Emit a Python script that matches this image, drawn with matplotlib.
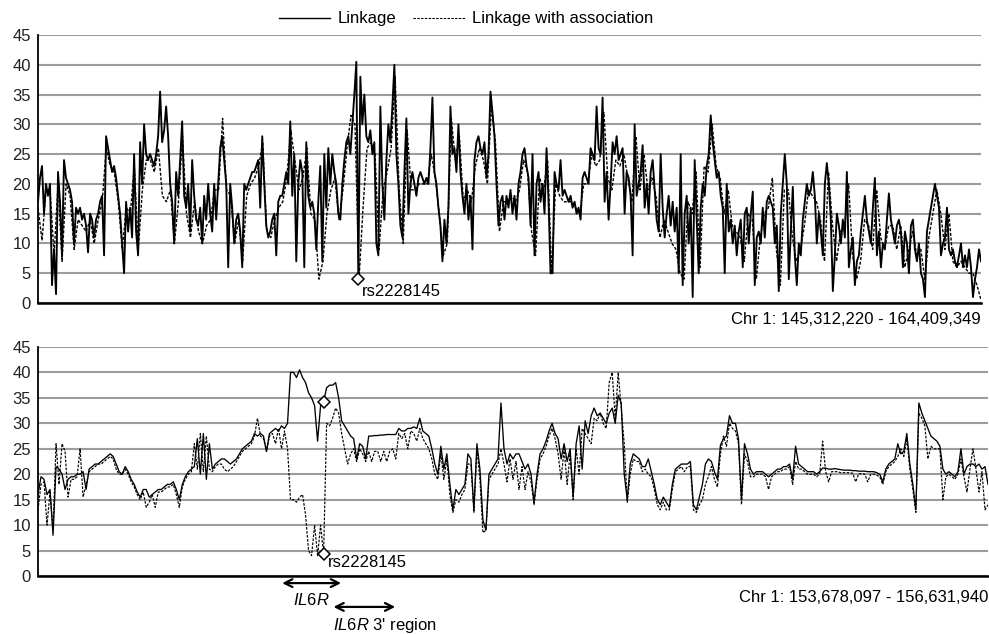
import numpy as np
import matplotlib
matplotlib.use("Agg")
import matplotlib.pyplot as plt
from matplotlib.transforms import blended_transform_factory
from matplotlib.lines import Line2D

plt.rcParams['font.family'] = ['Liberation Sans', 'DejaVu Sans']
plt.rcParams['mathtext.fontset'] = 'custom'
plt.rcParams['mathtext.it'] = 'Liberation Sans:italic'
plt.rcParams['mathtext.rm'] = 'Liberation Sans'

# ---------------- data ----------------
yticks = [0, 5, 10, 15, 20, 25, 30, 35, 40, 45]
legend_labels = ["Linkage", "Linkage with association"]
top_range_label = "Chr 1: 145,312,220 - 164,409,349"
bot_range_label = "Chr 1: 153,678,097 - 156,631,940"
snp_label = "rs2228145"

top_linkage = [
    17, 21, 23, 15, 20, 18, 20, 3, 9, 1.5,
    22, 17, 8, 24, 21, 20, 19, 17, 10, 16,
    15, 16, 14, 15, 13, 8.5, 15, 14, 11, 14,
    15, 17, 18, 8, 28, 26, 24, 22, 23, 21,
    18, 15, 10, 5, 17, 12, 16, 11, 25, 12,
    8, 27, 20, 30, 25, 24, 25, 24, 23, 25,
    28, 35.5, 27, 29, 33, 28, 20, 17, 10, 22,
    18, 24, 30.5, 18, 16, 20, 12, 24, 18, 14,
    13, 16, 10, 18, 14, 20, 15, 12, 20, 14,
    20, 26, 28, 24, 20, 6, 20, 16, 10, 14,
    15, 12, 6, 20, 19, 20, 21, 22, 22, 23,
    24, 16, 28, 20, 13, 11, 12, 14, 15, 8,
    17, 18, 18, 20, 22, 20, 30.5, 18, 25, 7,
    20, 24, 22, 6, 27, 18, 16, 17, 15, 9,
    17, 23, 7, 25, 16, 26, 20, 25, 22, 20,
    15, 14, 20, 24, 27, 28, 25, 30, 35, 40.5,
    4, 38, 30, 35, 28, 27, 29, 25, 27, 10,
    8, 33, 20, 14, 24, 30, 27, 33, 40, 25,
    20, 13, 11, 22, 31, 15, 20, 22, 20, 18,
    21, 22, 21, 20, 21, 20, 26, 34.5, 22, 20,
    16, 13, 7, 14, 10, 16, 33, 25, 26, 22,
    30, 22, 18, 15, 20, 14, 18, 9, 24, 27,
    28, 26, 25, 27, 21, 25, 35.5, 32, 28, 20,
    13, 17, 18, 14, 18, 16, 19, 15, 18, 14,
    20, 22, 25, 26, 23, 21, 13, 25, 8, 20,
    22, 17, 20, 15, 26, 17, 5, 5, 22, 20,
    19, 24, 18, 19, 18, 17, 18, 16, 17, 15,
    16, 14, 21, 22, 21, 20, 26, 25, 24, 33,
    26, 25, 34.5, 17, 22, 14, 20, 27, 25, 28,
    24, 25, 26, 15, 22, 21, 18, 8, 30, 18,
    20, 22, 26.5, 16, 20, 15, 22, 24, 19, 14,
    12, 25, 16, 11, 15, 18, 13, 17, 12, 16,
    5, 25, 3, 15, 18, 10, 16, 1, 24, 14,
    5, 16, 20, 18, 23, 25, 31.5, 27, 24, 21,
    22, 18, 16, 5, 20, 12, 14, 10, 13, 8,
    12, 14, 6, 15, 16, 10, 15, 18.7, 3, 11,
    12, 10, 16, 11, 17, 18, 17, 16, 10, 13,
    2, 15, 20, 25, 20, 4, 12, 19.5, 8, 3,
    10, 8, 14, 17, 20, 18, 19, 22, 18, 10,
    15, 12, 8, 20, 23.5, 20, 14, 2, 8, 15,
    13, 10, 14, 11, 22, 6, 9, 11, 3, 7,
    8, 12, 15, 18, 14, 12, 10, 16, 21, 8,
    12, 6, 10, 9, 14, 18.4, 14, 12, 10, 13,
    14, 12, 6, 12, 10, 5, 13, 14, 9, 7,
    10, 5, 4, 1, 12, 14, 16, 18, 20, 18,
    16, 8, 10, 11, 16, 9, 8, 9, 7, 6,
    8, 10, 6, 8, 6, 9, 6, 1, 4, 6,
    9, 7]

top_assoc = [
    16, 10.5, 19, 19, 8, 20, 7, 20, 18, 9,
    14, 13, 12, 14, 10, 14, 17, 26, 23, 22,
    17, 9, 16, 15, 23, 9, 19, 24, 24, 22,
    26, 18, 17, 19, 10, 17, 28, 15, 11, 17,
    12, 10, 13, 14, 19, 19, 31, 19, 18, 10,
    14, 7, 18, 20, 21, 23, 27, 12, 11, 14,
    16, 17, 21, 29, 24, 19, 21, 26, 15, 14,
    4, 7, 15, 19, 21, 14, 19, 26, 31.5, 30,
    4, 16, 26, 27, 25, 9, 19, 22, 26, 38,
    19, 10, 29, 19, 19, 20, 20, 20, 25, 21,
    15, 8, 10, 31, 24, 28, 17, 19, 17, 23,
    26, 24, 20, 33, 27, 12, 17, 17, 18, 17,
    19, 24, 22, 12, 8, 21, 19, 24, 5, 20,
    18, 17, 17, 17, 16, 15, 20, 20, 25, 23,
    24, 32, 21, 19, 24, 23, 25, 21, 17, 28,
    19, 25, 19, 21, 18, 11, 14, 12, 10, 9,
    5, 4, 17, 15, 22, 6, 23, 22, 30, 23,
    21, 15, 19, 13, 12, 11, 7, 15, 14, 4,
    11, 15, 16, 21, 9, 3, 19, 19, 11, 7,
    9, 13, 19, 18, 17, 14, 7, 22, 13, 7,
    12, 13, 20, 8, 4, 7, 14, 13, 9, 19,
    11, 9, 13, 13, 9, 13, 6, 9, 12, 8,
    9, 4, 11, 15, 19, 15, 9, 15, 7, 6,
    7, 6, 5, 5, 3, 0.5]

bot_linkage = [
    16, 19.5, 19, 16, 17, 8, 21.5, 21, 20, 17,
    19, 19.5, 19.5, 20, 20, 20.5, 17, 21, 21.5, 22,
    22, 22.5, 23, 23.5, 24, 23.5, 22, 20.5, 20, 21.5,
    20.5, 19, 18, 16.5, 15.5, 17, 17, 15.5, 16, 16.5,
    17, 17, 17.5, 18, 18, 18.5, 17, 15, 18, 19.5,
    20.5, 21, 21.5, 27, 20, 28, 19, 26, 21, 22,
    22.5, 23, 23, 22.5, 22, 22.5, 23, 24, 25, 25.5,
    26, 26.5, 28, 27.5, 28, 27.5, 24.5, 28, 28.5, 29,
    28.5, 29.5, 29, 30, 40, 40, 39, 40.5, 39, 38,
    36, 35, 33.5, 26.5, 33.5, 34.2, 37, 37.5, 37.5, 38,
    35, 30.5, 29.5, 28.5, 27.5, 27, 23, 26, 25.5, 23,
    27.5, 27.5, 27.6, 27.6, 27.7, 27.7, 27.8, 27.8, 27.8, 27.8,
    29, 28.5, 28.5, 29, 29, 29.3, 29, 31, 28.5, 28,
    27.5, 25, 22, 20, 25.5, 21, 24, 18, 13, 17,
    16, 17, 18, 24, 23, 13, 26, 21, 11, 9,
    20, 21, 22, 23, 34, 25, 22, 24, 23, 24,
    24, 22.5, 21, 22, 20, 14.5, 20, 24, 25, 26.5,
    28.5, 30, 28, 27, 23, 26, 22.5, 25, 15.5, 26,
    29.5, 21, 30.5, 28, 31.5, 33, 31.5, 32, 31, 30,
    32, 33, 30, 35.5, 34, 20, 15, 22, 24, 23.5,
    23, 21.5, 21.5, 23, 20.5, 18, 15, 14, 15.5, 14.5,
    13.5, 18, 21, 21.5, 22, 22, 22, 22.5, 14, 13,
    15.5, 18, 22, 23, 22.5, 20.5, 19, 25.7, 27, 27.5,
    31.5, 30, 30, 27, 15, 26, 24, 21, 20, 20.5,
    20.5, 20.5, 20, 19.5, 20, 20.5, 21, 21, 21.5, 21.5,
    22, 19, 25.5, 22, 21.5, 21, 20.5, 20.5, 20.5, 20,
    20.5, 21.2, 21.2, 21, 21, 21.1, 21, 20.9, 20.8, 20.8,
    20.8, 20.7, 20.7, 20.6, 20.6, 20.6, 20.5, 20.5, 20.5, 20.3,
    20, 18.5, 21, 22, 22.5, 23, 26, 24, 24.5, 28,
    22, 18, 13, 34, 32, 30.5, 29, 27.5, 27, 26.5,
    25.5, 21, 20, 20.5, 20, 19.5, 20.5, 25, 20, 21.5,
    22, 22, 21.5, 22, 21, 21.5, 18]

bot_assoc = [
    13, 18, 18.5, 10, 16.5, 9, 26, 18, 26, 24.5,
    15.5, 19, 19, 19.5, 25, 15.5, 18, 20.5, 21, 21.5,
    22, 22, 22.5, 23, 23.5, 23, 21, 20, 20, 21,
    20, 18.5, 17.5, 16, 15, 16.5, 13.5, 14.5, 16, 13.5,
    16.5, 16.5, 17, 17.5, 17.5, 18, 16, 13.5, 17.5, 19,
    20, 20.5, 26, 21, 28, 20.5, 27.5, 21, 20.5, 21.5,
    22, 22, 21, 20.5, 21, 21.5, 22.5, 23.5, 24.5, 25,
    25.5, 26, 27.5, 31, 27.5, 27, 24.5, 27.5, 28, 26,
    29, 25, 28.5, 25, 15, 15, 14.5, 15.5, 16, 12,
    5, 4, 10, 4, 10, 4.3, 30, 29.5, 31, 33,
    32, 28, 25, 22, 24, 25, 22.5, 25, 24, 22.5,
    24.5, 22.5, 24.5, 24.5, 22.5, 24.5, 22.5, 24.5, 25, 23,
    28, 27, 28, 25, 28.5, 28, 26.5, 29, 27, 26,
    25, 23, 20, 19, 24, 19, 23, 16, 12.5, 15,
    14.5, 16, 17, 22, 22, 12.5, 25, 19, 8.5, 9,
    19, 20, 21, 22, 25, 22, 18.5, 23, 19, 22.5,
    17, 21.5, 17, 20.5, 18.5, 14, 19, 23, 24, 25.5,
    27.5, 29, 27, 24, 19, 25, 18, 24, 15, 25,
    20, 29, 28, 27, 26, 31, 30.5, 32, 30, 29,
    38, 40, 31, 40, 33, 26, 14.5, 20, 23, 22.5,
    22.5, 20.5, 21, 20, 19.5, 17, 14, 13, 14.5, 13,
    13, 17, 20.5, 21, 21.5, 20.5, 21.5, 21.5, 13, 12.5,
    14, 15, 18, 19.5, 21.5, 19, 17.5, 24, 27.5, 25.5,
    30, 29, 28.5, 26, 14, 24, 22.5, 19.5, 19.5, 20,
    20, 20, 19.5, 17, 19.5, 20, 20.5, 20.5, 21, 21,
    21.5, 18, 22.5, 21, 21, 20.5, 20, 20, 20, 19.5,
    20, 26.5, 20.5, 18.5, 20.5, 20.5, 20.5, 20.3, 20.3, 20.3,
    20.3, 20.2, 18.5, 20.1, 20.1, 20, 18.5, 20, 20, 19.8,
    19.5, 18, 20.5, 21.5, 22, 22.5, 23.5, 25, 23.5, 27,
    21, 17, 12.5, 32, 31, 29.5, 23, 25.5, 25, 25,
    25, 15, 19.5, 20, 19.5, 19, 20, 23, 19.5, 16.5,
    21, 25, 21, 16.5, 20.5, 13, 14]

# SNP index positions within each series
top_snp_index = 160
bot_snp_index = 95
# gene spans (fraction of the lower panel's SNP axis)
il6r_span = (0.257, 0.319)
il6r_3p_span = (0.311, 0.376)

# ---------------- figure ----------------
W, H = 989, 634
fig = plt.figure(figsize=(W / 100, H / 100), dpi=100)
ax1 = fig.add_axes([38 / W, (H - 303) / H, 943 / W, 268 / H])
ax2 = fig.add_axes([38 / W, (H - 576) / H, 950 / W, 229 / H])

grid_col = '#9c9c9c'
fs = 12

def style(ax):
    ax.set_ylim(0, 45)
    ax.set_xlim(0, 1)
    ax.set_yticks(yticks)
    ax.set_xticks([])
    ax.yaxis.grid(True, color=grid_col, lw=1.5)
    ax.set_axisbelow(True)
    for s in ['top', 'right']:
        ax.spines[s].set_visible(False)
    ax.spines['left'].set_linewidth(1.3)
    ax.spines['bottom'].set_linewidth(1.8)
    ax.tick_params(axis='y', length=0, pad=5, labelsize=fs, colors='#222222')

dash = (0, (2.2, 1.2))

x_t = np.linspace(0, 1, len(top_linkage))
x_ta = np.linspace(0, 1, len(top_assoc))
ax1.plot(x_ta, top_assoc, color='black', lw=1.0, linestyle=dash)
ax1.plot(x_t, top_linkage, color='black', lw=1.35)
style(ax1)

x_b = np.linspace(0, 1, len(bot_linkage))
x_ba = np.linspace(0, 1, len(bot_assoc))
ax2.plot(x_ba, bot_assoc, color='black', lw=0.85, linestyle=dash)
ax2.plot(x_b, bot_linkage, color='black', lw=0.95)
style(ax2)

# SNP markers
mk = dict(marker='D', markersize=6.5, markerfacecolor='white',
          markeredgecolor='black', markeredgewidth=1.1, linestyle='none', zorder=5)
ax1.plot([x_t[top_snp_index]], [top_linkage[top_snp_index]], **mk)
ax2.plot([x_b[bot_snp_index]], [bot_linkage[bot_snp_index]], **mk)
ax2.plot([x_ba[bot_snp_index]], [bot_assoc[bot_snp_index]], **mk)

ax1.text(x_t[top_snp_index] + 0.004, 2.0, snp_label, fontsize=fs, va='center', ha='left')
ax2.text(x_b[bot_snp_index] + 0.005, 2.6, snp_label, fontsize=fs, va='center', ha='left')

# range labels
ax1.text(1.0, -0.06, top_range_label, transform=ax1.transAxes, ha='right', va='center', fontsize=fs)
ax2.text(1.0, -0.092, bot_range_label, transform=ax2.transAxes, ha='right', va='center', fontsize=fs)

# legend
h1 = Line2D([], [], color='black', lw=1.0)
h2 = Line2D([], [], color='black', lw=0.8, linestyle=dash)
fig.legend([h1, h2], legend_labels, loc='center', bbox_to_anchor=(466 / W, 1 - 19 / H),
           ncol=2, frameon=False, handlelength=3.1, handletextpad=0.45,
           columnspacing=1.0, fontsize=fs)

# gene arrows
tr = blended_transform_factory(ax2.transData, ax2.transAxes)
arrow = dict(arrowstyle='<->', lw=1.6, color='black', mutation_scale=14,
             shrinkA=0, shrinkB=0)
ax2.annotate('', xy=(il6r_span[1], -0.031), xytext=(il6r_span[0], -0.031),
             xycoords=tr, textcoords=tr, arrowprops=arrow, annotation_clip=False)
ax2.text((il6r_span[0] + il6r_span[1]) / 2, -0.105, r'$\it{IL6R}$', transform=tr,
         ha='center', va='center', fontsize=fs)
ax2.annotate('', xy=(il6r_3p_span[1], -0.135), xytext=(il6r_3p_span[0], -0.135),
             xycoords=tr, textcoords=tr, arrowprops=arrow, annotation_clip=False)
ax2.text(il6r_3p_span[0], -0.214, r"$\it{IL6R}$ 3' region", transform=tr,
         ha='left', va='center', fontsize=fs)

fig.savefig('out.png', dpi=100)
